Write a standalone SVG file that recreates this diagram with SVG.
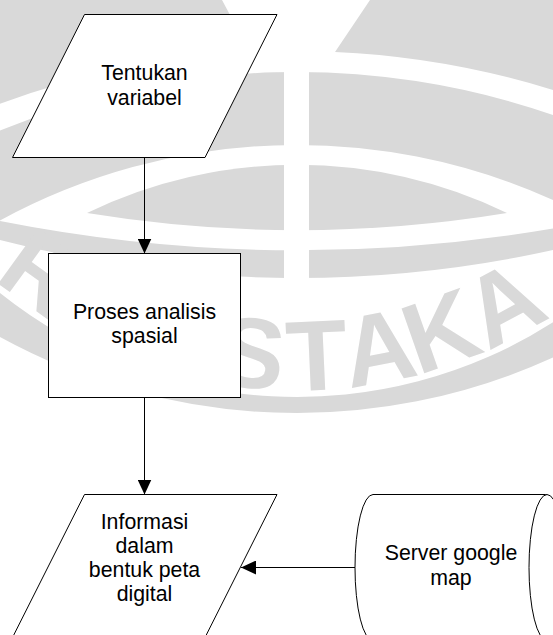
<svg xmlns="http://www.w3.org/2000/svg" width="553" height="635" viewBox="0 0 553 635">
  <style>
    .mark { fill: #d9d9d9; stroke: none; }
    .mark-letter { fill: #d9d9d9; font-family: "Liberation Sans", Arial, sans-serif; font-weight: bold; font-size: 100px; text-anchor: middle; }
    .shape { fill: #ffffff; stroke: #000000; stroke-width: 1; }
    .label { fill: #000000; font-family: "Liberation Sans", Arial, sans-serif; font-size: 21.3px; text-anchor: middle; }
    .flow { fill: none; stroke: #000000; stroke-width: 1; }
  </style>
  <defs>
    <marker id="arrow" markerUnits="userSpaceOnUse" markerWidth="15" markerHeight="14" refX="15" refY="7" orient="auto">
      <path d="M0,0 L15,7 L0,14 Z" fill="#000000"/>
    </marker>
  </defs>

  <rect width="553" height="635" fill="#ffffff"/>

  <!-- background emblem: globe bands, meridian, lettering and outer ring -->
  <g id="watermark">
    <path class="mark" d="M370,0 L553,0 L553,90 A863,863 0 0 0 335,52 Z"/>
    <path class="mark" d="M0,0 L222,0 L250,52.3 A863,863 0 0 0 0,103.7 Z"/>
    <path class="mark" d="M0,130.6 A782,782 0 0 1 553,115.1 L553,200.1 A622,622 0 0 0 0,220.5 Z"/>
    <path class="mark" d="M87,213 A482,482 0 0 1 507,213 A1301,1301 0 0 1 87,213 Z"/>
    <path class="mark" d="M0,221 A1533,1533 0 0 0 553,228.5 L553,250 A1184,1184 0 0 1 0,240 Z"/>
    <rect x="284" y="0" width="25" height="290" fill="#ffffff"/>
    <path class="mark" d="M0,293 A476,476 0 0 0 553,322.3 L553,357.5 A618,618 0 0 1 0,337 Z"/>
    <text class="mark-letter" transform="translate(22,301) rotate(35.9)">R</text>
    <text class="mark-letter" transform="translate(248,387.4) rotate(6)">S</text>
    <text class="mark-letter" transform="translate(318,390) rotate(-2.6)">T</text>
    <text class="mark-letter" transform="translate(385,381.7) rotate(-10.8)">A</text>
    <text class="mark-letter" transform="translate(452,363.6) rotate(-19.3)">K</text>
    <text class="mark-letter" transform="translate(520,334) rotate(-28.4)">A</text>
  </g>

  <!-- connectors -->
  <g id="connectors">
    <line class="flow" x1="144.5" y1="157.5" x2="144.5" y2="253.5" marker-end="url(#arrow)"/>
    <line class="flow" x1="144.5" y1="397.5" x2="144.5" y2="494.5" marker-end="url(#arrow)"/>
    <line class="flow" x1="355" y1="567.5" x2="241" y2="567.5" marker-end="url(#arrow)"/>
  </g>

  <!-- input: Tentukan variabel -->
  <g id="tentukan-variabel">
    <polygon class="shape" points="84.5,14.5 277,14.5 205,157.5 12.5,157.5"/>
    <text class="label" x="144.5" y="80">Tentukan</text>
    <text class="label" x="144.5" y="104.5">variabel</text>
  </g>

  <!-- process: Proses analisis spasial -->
  <g id="proses-analisis">
    <rect class="shape" x="48.5" y="253.5" width="192" height="144"/>
    <text class="label" x="144.5" y="319">Proses analisis</text>
    <text class="label" x="144.5" y="343">spasial</text>
  </g>

  <!-- output: Informasi dalam bentuk peta digital -->
  <g id="informasi-peta">
    <polygon class="shape" points="84.5,494.5 277,494.5 205,637.5 12.5,637.5"/>
    <text class="label" x="144.5" y="529">Informasi</text>
    <text class="label" x="144.5" y="553">dalam</text>
    <text class="label" x="144.5" y="577">bentuk peta</text>
    <text class="label" x="144.5" y="601">digital</text>
  </g>

  <!-- stored data: Server google map -->
  <g id="server-google-map">
    <path class="shape" d="M373,494.5 L547,494.5 A18,73 0 0 1 547,640.5 L373,640.5 A18,73 0 0 1 373,494.5 Z"/>
    <path class="shape" d="M547,494.5 A18,73 0 0 0 547,640.5" fill="none"/>
    <text class="label" x="451" y="560">Server google</text>
    <text class="label" x="451" y="584.5">map</text>
  </g>
</svg>
